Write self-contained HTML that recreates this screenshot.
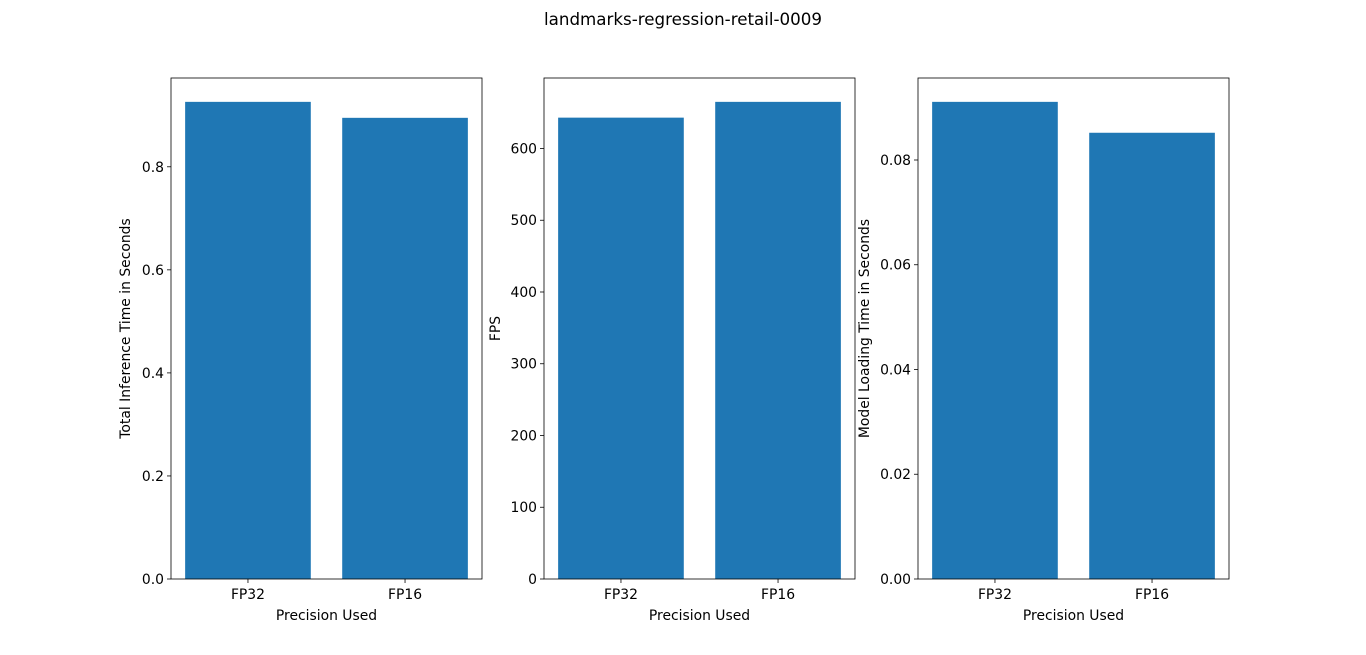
<!DOCTYPE html>
<html><head><meta charset="utf-8"><style>
body{margin:0;background:#fff;font-family:"DejaVu Sans","Liberation Sans",sans-serif;}
svg text{font-family:"DejaVu Sans","Liberation Sans",sans-serif;font-size:13.9px;fill:#000;}
</style></head><body>
<svg id="chart" width="1366" height="651" xmlns="http://www.w3.org/2000/svg">
<rect width="1366" height="651" fill="#fff"/>
<text x="683" y="25" text-anchor="middle" style="font-size:16.7px">landmarks-regression-retail-0009</text>
</svg>
<script>
const categories = ["FP32", "FP16"];
const inferenceTime = [0.926, 0.895];
const fpsValues = [643, 665];
const loadTime = [0.0911, 0.0852];
const inferenceTicks = [0, 0.2, 0.4, 0.6, 0.8];
const fpsTicks = [0, 100, 200, 300, 400, 500, 600];
const loadTicks = [0, 0.02, 0.04, 0.06, 0.08];
const inferenceTickLabels = ["0.0","0.2","0.4","0.6","0.8"];
const fpsTickLabels = ["0","100","200","300","400","500","600"];
const loadTickLabels = ["0.00","0.02","0.04","0.06","0.08"];

const svg = document.getElementById('chart');
const NS = 'http://www.w3.org/2000/svg';
function mk(tag, attrs, parent){const e=document.createElementNS(NS,tag);for(const k in attrs)e.setAttribute(k,attrs[k]);(parent||svg).appendChild(e);return e;}

function panel(x0, name, values, ticks, tickLabels, ylabel, ylabelX){
  const w=311, top=78, bottom=579;
  const g=mk('g',{});
  
  
  const ymax=Math.max(...values)*1.05;
  const ys=v=>bottom-(v/ymax)*(bottom-top);
  const xmin=-0.49, xmax=1.49;
  const xs=v=>x0+(v-xmin)/(xmax-xmin)*w;
  values.forEach((v,i)=>{
    const r=mk('rect',{x:xs(i-0.4),y:ys(v),width:xs(i+0.4)-xs(i-0.4),height:bottom-ys(v),fill:'#1f77b4'},g);
    
    
    mk('line',{x1:xs(i),x2:xs(i),y1:bottom,y2:bottom+4,stroke:'#000','stroke-width':0.8},g);
    const t=mk('text',{x:xs(i),y:bottom+20,'text-anchor':'middle'},g);
    t.textContent=categories[i];
    
    
  });
  ticks.forEach((tv,i)=>{
    const y=ys(tv);
    mk('line',{x1:x0-4,x2:x0,y1:y,y2:y,stroke:'#000','stroke-width':0.8},g);
    const t=mk('text',{x:x0-7,y:y+5,'text-anchor':'end'},g);
    t.textContent=tickLabels[i];
    
    
  });
  mk('rect',{x:x0,y:top,width:w,height:bottom-top,fill:'none',stroke:'#000','stroke-width':0.8},g);
  const xl=mk('text',{x:x0+w/2,y:620,'text-anchor':'middle'},g);
  xl.textContent='Precision Used';
  
  
  const yl=mk('text',{x:ylabelX,y:(top+bottom)/2,'text-anchor':'middle',transform:`rotate(-90 ${ylabelX} ${(top+bottom)/2})`},g);
  yl.textContent=ylabel;
  
  
}
panel(171,'inference-time',inferenceTime,inferenceTicks,inferenceTickLabels,'Total Inference Time in Seconds',130);
panel(544,'fps',fpsValues,fpsTicks,fpsTickLabels,'FPS',500);
panel(918,'model-loading-time',loadTime,loadTicks,loadTickLabels,'Model Loading Time in Seconds',869);
</script>
</body></html>
